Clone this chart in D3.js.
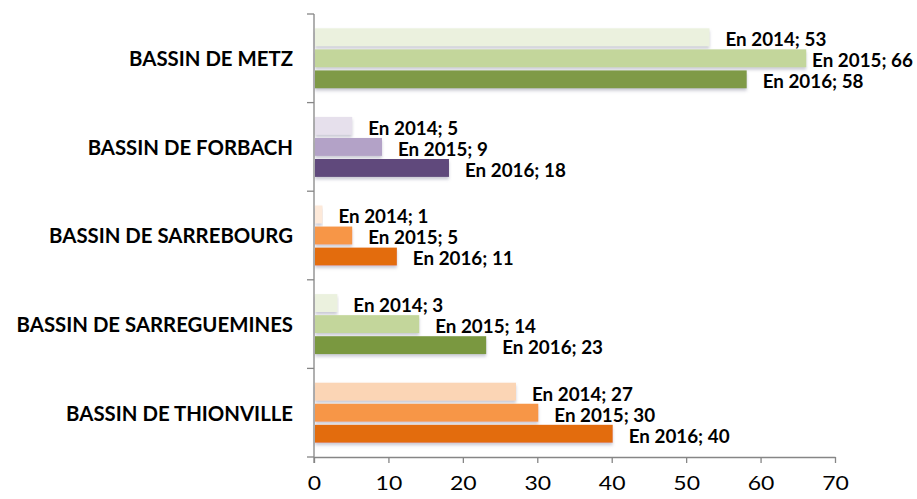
<!DOCTYPE html>
<html><head><meta charset="utf-8">
<script src="https://cdn.jsdelivr.net/npm/d3@7"></script>
<style>
html,body{margin:0;padding:0;background:#fff;}
svg{display:block;}
</style></head>
<body><svg id="c" width="917" height="499"></svg>
<script>
(function(){
const categories = ["BASSIN DE METZ","BASSIN DE FORBACH","BASSIN DE SARREBOURG","BASSIN DE SARREGUEMINES","BASSIN DE THIONVILLE"];
const years = ["2014","2015","2016"];
const values2014 = [53, 5, 1, 3, 27];
const values2015 = [66, 9, 5, 14, 30];
const values2016 = [58, 18, 11, 23, 40];
const xTicks = [0,10,20,30,40,50,60,70];
const palettes = [
  ["#ebf1de","#c3d69b","#7f9a47"],
  ["#e6e0ec","#b3a2c7","#604a7b"],
  ["#fde9d9","#f79646","#e36c09"],
  ["#ebf1de","#c3d69b","#7a983f"],
  ["#fbd5b5","#f79646","#e36c09"]
];
const series = [values2014, values2015, values2016];

const W = 917, H = 499;
const mLeft = 314, mRight = 835, mTop = 14, mBottom = 457;
const svg = d3.select("#c");

function measure(str, size, weight){
  const t = svg.append("text").attr("font-family","Lato, sans-serif").attr("font-weight",weight).attr("font-size",size).text(str);
  const w = t.node().getComputedTextLength();
  t.remove();
  return w;
}

const defs = svg.append("defs");
const f = defs.append("filter").attr("id","sh").attr("x","-5%").attr("y","-30%").attr("width","110%").attr("height","180%");
f.append("feDropShadow").attr("dx",0).attr("dy",2.5).attr("stdDeviation",1.5).attr("flood-color","#8a8aa0").attr("flood-opacity",0.45);

const x = d3.scaleLinear().domain([0,70]).range([mLeft,mRight]);
const y0 = d3.scaleBand().domain(categories).range([mTop,mBottom]).paddingInner(0).paddingOuter(0);
const y1 = d3.scaleBand().domain(years).range([0,60]).paddingInner(0.15);
const gOff = (y0.bandwidth()-60)/2;

categories.forEach((c,i)=>{
  years.forEach((yr,j)=>{
    const v = series[j][i];
    svg.append("rect")
      .attr("x", x(0)+1)
      .attr("y", y0(c)+gOff+y1(yr))
      .attr("width", x(v)-x(0))
      .attr("height", y1.bandwidth())
      .attr("fill", palettes[i][j])
      .attr("filter","url(#sh)");
  });
});

const xAxis = d3.axisBottom(x).tickValues(xTicks).tickSize(6).tickSizeOuter(0).tickFormat(d3.format("d"));
const gx = svg.append("g").attr("transform",`translate(0,${mBottom})`).call(xAxis);
gx.select(".domain").attr("stroke","#868686").attr("stroke-width",1.3);
gx.selectAll(".tick line").attr("stroke","#868686").attr("stroke-width",1.3);
gx.selectAll(".tick text").attr("fill","#000").attr("font-family","Lato, 'Open Sans', sans-serif").attr("font-size","20px")
  .attr("y",0).attr("dy",null).attr("dominant-baseline","central")
  .attr("transform","translate(0,26) scale(1.15,1)");

svg.append("line").attr("x1",mLeft).attr("x2",mLeft).attr("y1",mTop).attr("y2",mBottom+6).attr("stroke","#868686").attr("stroke-width",1.3);
const bounds = categories.map(c=>y0(c)).concat([mBottom]);
svg.selectAll(".ytick").data(bounds).enter().append("line")
  .attr("x1",mLeft-7).attr("x2",mLeft).attr("y1",d=>d).attr("y2",d=>d)
  .attr("stroke","#868686").attr("stroke-width",1.3);

const catSize = 20;
const catSx = 164 / measure("BASSIN DE METZ", catSize+"px", "bold");
svg.selectAll(".cat").data(categories).enter().append("text")
  .attr("transform", d=>`translate(${mLeft-21},${y0(d)+y0.bandwidth()/2}) scale(${catSx},1)`)
  .attr("text-anchor","end").attr("dominant-baseline","central")
  .attr("font-family","Lato, sans-serif").attr("font-weight","bold").attr("font-size",catSize+"px")
  .attr("fill","#000").text(d=>d);

const lblSize = 18.5;
const sx = 90 / measure("En 2014; 5", lblSize+"px", "bold");
categories.forEach((c,i)=>{
  years.forEach((yr,j)=>{
    const v = series[j][i];
    const yy = y0(c)+gOff+y1(yr)+y1.bandwidth()/2+2;
    const t = svg.append("text")
      .attr("dominant-baseline","central")
      .attr("font-family","Lato, sans-serif").attr("font-weight","bold").attr("font-size",lblSize+"px")
      .attr("fill","#000").text(`En ${yr}; ${v}`);
    const w = t.node().getComputedTextLength()*sx;
    const xx = Math.min(x(v)+17, W - w - 4);
    t.attr("transform", `translate(${xx},${yy}) scale(${sx},1)`);
  });
});
})();
</script></body></html>
